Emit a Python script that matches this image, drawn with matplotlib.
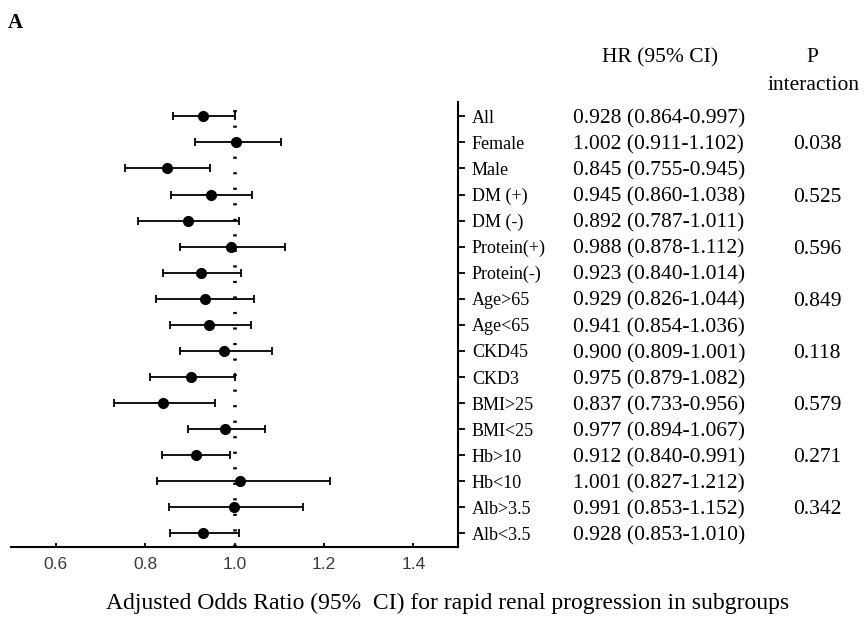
import matplotlib.pyplot as plt
import matplotlib.transforms as mtransforms

# subgroup rows, top to bottom
subgroups = ["All", "Female", "Male", "DM (+)", "DM (-)", "Protein(+)", "Protein(-)",
             "Age>65", "Age<65", "CKD45", "CKD3", "BMI>25", "BMI<25",
             "Hb>10", "Hb<10", "Alb>3.5", "Alb<3.5"]

# estimates and CI as drawn in the plot
est = [0.930, 1.004, 0.848, 0.947, 0.896, 0.992, 0.926, 0.933, 0.943,
       0.977, 0.903, 0.840, 0.979, 0.913, 1.013, 0.998, 0.930]
lo = [0.863, 0.911, 0.755, 0.859, 0.785, 0.879, 0.839, 0.825, 0.855,
      0.879, 0.810, 0.731, 0.895, 0.838, 0.826, 0.854, 0.855]
hi = [1.000, 1.105, 0.945, 1.039, 1.011, 1.113, 1.014, 1.044, 1.037,
      1.084, 1.000, 0.957, 1.068, 0.990, 1.213, 1.154, 1.011]

# text columns
hr_text = ["0.928 (0.864-0.997)", "1.002 (0.911-1.102)", "0.845 (0.755-0.945)",
           "0.945 (0.860-1.038)", "0.892 (0.787-1.011)", "0.988 (0.878-1.112)",
           "0.923 (0.840-1.014)", "0.929 (0.826-1.044)", "0.941 (0.854-1.036)",
           "0.900 (0.809-1.001)", "0.975 (0.879-1.082)", "0.837 (0.733-0.956)",
           "0.977 (0.894-1.067)", "0.912 (0.840-0.991)", "1.001 (0.827-1.212)",
           "0.991 (0.853-1.152)", "0.928 (0.853-1.010)"]
p_text = ["", "0.038", "", "0.525", "", "0.596", "", "0.849", "",
          "0.118", "", "0.579", "", "0.271", "", "0.342", ""]

xticks = [0.6, 0.8, 1.0, 1.2, 1.4]

serif = "Liberation Serif"
sans = "Liberation Sans"

W, H = 867, 619
fig = plt.figure(figsize=(W / 100, H / 100), dpi=100)
ax = fig.add_axes([11 / W, 1 - 547 / H, (458 - 11) / W, (547 - 102) / H])

rows = list(range(len(subgroups)))
xerr = [[e - l for e, l in zip(est, lo)], [h - e for e, h in zip(est, hi)]]

ax.axvline(1.0, color="black", lw=2.6, linestyle=(0, (0.6, 3.7)), zorder=1)
ax.errorbar(est, rows, xerr=xerr, fmt="o", color="black", ms=7,
            elinewidth=1.3, capsize=3, capthick=1.3, zorder=3)

ax.set_xlim(0.5, 1.5)
ax.set_ylim(16.52, -0.55)

ax.spines["left"].set_visible(False)
ax.spines["top"].set_visible(False)
ax.spines["bottom"].set_linewidth(1.5)
ax.spines["right"].set_linewidth(1.5)

ax.set_xticks(xticks)
ax.set_xticklabels([f"{t:.1f}" for t in xticks], fontfamily=sans, fontsize=12.5,
                   color="#3a3a3a")
ax.tick_params(axis="x", direction="in", length=3, width=1.3, pad=7)

ax.yaxis.tick_right()
ax.set_yticks(rows)
ax.set_yticklabels(subgroups, fontfamily=serif, fontsize=13)
ax.tick_params(axis="y", direction="out", length=5, width=1.3, pad=5)

trans = mtransforms.blended_transform_factory(fig.transFigure, ax.transData)
for r, t, p in zip(rows, hr_text, p_text):
    ax.text(573 / W, r, t, transform=trans, fontfamily=serif, fontsize=15.5,
            va="center_baseline", ha="left")
    if p:
        ax.text(817 / W, r, p, transform=trans, fontfamily=serif, fontsize=15.5,
                va="center_baseline", ha="center")

fig.text(660 / W, 1 - 58 / H, "HR (95% CI)", fontfamily=serif, fontsize=15.5,
         ha="center", va="center")
fig.text(812 / W, 1 - 58 / H, "P", fontfamily=serif, fontsize=15.5,
         ha="center", va="center")
fig.text(813 / W, 1 - 86 / H, "interaction", fontfamily=serif, fontsize=15.5,
         ha="center", va="center")
fig.text(8 / W, 1 - 23 / H, "A", fontfamily=serif, fontsize=15, fontweight="bold",
         ha="left", va="center")
fig.text(448 / W, 1 - 603 / H,
         "Adjusted Odds Ratio (95%  CI) for rapid renal progression in subgroups",
         fontfamily=serif, fontsize=17, ha="center", va="center")

fig.savefig("out.png", dpi=100)
